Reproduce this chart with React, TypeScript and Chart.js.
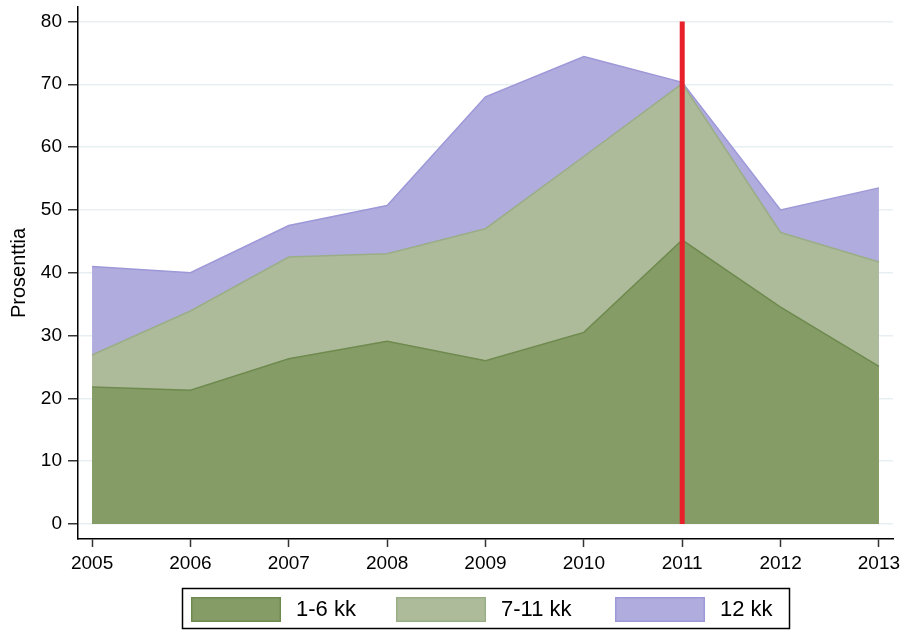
import React, { useEffect, useRef } from "react";
import { Chart, registerables } from "chart.js";

Chart.register(...registerables);

const years = [2005, 2006, 2007, 2008, 2009, 2010, 2011, 2012, 2013];
const seriesNames = ["1-6 kk", "7-11 kk", "12 kk"];
const s1to6 = [21.8, 21.3, 26.3, 29.1, 26.0, 30.5, 45.2, 34.5, 25.1];
const s7to11 = [26.9, 33.9, 42.5, 43.0, 47.0, 58.5, 70.1, 46.4, 41.7];
const s12 = [41.0, 40.0, 47.5, 50.7, 68.0, 74.4, 70.3, 50.0, 53.5];
const yTicks = [0, 10, 20, 30, 40, 50, 60, 70, 80];
const markerYear = 2011;
const markerRange = [0, 80];

const fills = ["#859c66", "#aebb9b", "#b0acdd"];
const borders = ["#6e8a4e", "#9aae86", "#9d98d8"];
const FONT = "'Liberation Sans', Arial, sans-serif";

const legendPlugin = {
  id: "customLegend",
  afterDraw(chart: any) {
    const ctx = chart.ctx;
    ctx.save();
    ctx.strokeStyle = "#000";
    ctx.lineWidth = 1.5;
    ctx.strokeRect(182.5, 588.5, 607, 40);
    const sw = [191, 396, 615];
    ctx.font = `22px ${FONT}`;
    ctx.textBaseline = "middle";
    ctx.textAlign = "left";
    seriesNames.forEach((name, i) => {
      ctx.fillStyle = fills[i];
      ctx.fillRect(sw[i], 597, 90, 25);
      ctx.strokeStyle = borders[i];
      ctx.lineWidth = 1.5;
      ctx.strokeRect(sw[i] + 0.75, 597.75, 88.5, 23.5);
      ctx.fillStyle = "#000";
      ctx.fillText(name, sw[i] + 105, 610);
    });
    ctx.restore();
  },
};

export default function App() {
  const ref = useRef<HTMLCanvasElement>(null);
  useEffect(() => {
    if (!ref.current) return;
    const mk = (vals: number[]) => years.map((x, i) => ({ x, y: vals[i] }));
    const chart = new Chart(ref.current, {
      type: "line",
      data: {
        datasets: [
          {
            label: "marker",
            data: markerRange.map((y) => ({ x: markerYear, y })),
            borderColor: "#e8202a",
            borderWidth: 5,
            pointRadius: 0,
            fill: false,
          },
          {
            label: seriesNames[0],
            data: mk(s1to6),
            backgroundColor: fills[0],
            borderColor: borders[0],
            borderWidth: 1.5,
            pointRadius: 0,
            fill: "origin",
            tension: 0,
          },
          {
            label: seriesNames[1],
            data: mk(s7to11),
            backgroundColor: fills[1],
            borderColor: borders[1],
            borderWidth: 1.5,
            pointRadius: 0,
            fill: "origin",
            tension: 0,
          },
          {
            label: seriesNames[2],
            data: mk(s12),
            backgroundColor: fills[2],
            borderColor: borders[2],
            borderWidth: 1.5,
            pointRadius: 0,
            fill: "origin",
            tension: 0,
          },
        ],
      },
      options: {
        animation: false,
        responsive: false,
        devicePixelRatio: 1,
        layout: { padding: { left: 0, right: 9, top: 7, bottom: 43 } },
        plugins: {
          legend: { display: false },
          tooltip: { enabled: false },
        },
        scales: {
          x: {
            type: "linear",
            min: 2004.857,
            max: 2013.143,
            afterBuildTicks: (scale: any) => {
              scale.ticks = years.map((v) => ({ value: v }));
            },
            afterFit: (scale: any) => {
              scale.height = 50;
              scale.paddingLeft = 0;
              scale.paddingRight = 0;
            },
            grid: {
              drawOnChartArea: false,
              drawTicks: true,
              tickLength: 8,
              tickColor: "#333",
              tickWidth: 1.5,
            },
            border: { display: true, color: "#000", width: 1.5 },
            ticks: {
              color: "#000",
              font: { size: 19, family: FONT },
              padding: 5,
              maxRotation: 0,
              autoSkip: false,
              callback: (v: any) => String(v),
            },
          },
          y: {
            type: "linear",
            min: -2.4,
            max: 82.3,
            afterBuildTicks: (scale: any) => {
              scale.ticks = yTicks.map((v) => ({ value: v }));
            },
            afterFit: (scale: any) => {
              scale.width = 78;
              scale.paddingTop = 0;
              scale.paddingBottom = 0;
            },
            grid: {
              color: "#e8eff2",
              lineWidth: 1.5,
              drawTicks: true,
              tickLength: 10,
              tickColor: "#333",
              tickWidth: 1.5,
            },
            border: { display: true, color: "#000", width: 1.5 },
            ticks: {
              color: "#000",
              font: { size: 19, family: FONT },
              padding: 6,
              autoSkip: false,
              callback: (v: any) => String(v),
            },
            title: {
              display: true,
              text: "Prosenttia",
              color: "#000",
              font: { size: 20, family: FONT },
              padding: { top: 7, bottom: 0 },
            },
          },
        },
      },
      plugins: [legendPlugin],
    });
    return () => chart.destroy();
  }, []);
  return (
    <div style={{ position: "fixed", left: 0, top: 0, width: 902, height: 632, background: "#fff" }}>
      <canvas ref={ref} width={902} height={632} />
    </div>
  );
}
